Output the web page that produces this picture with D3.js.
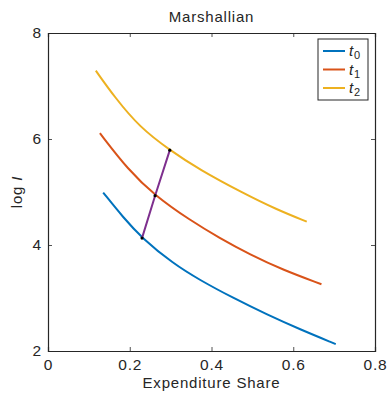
<!DOCTYPE html>
<html>
<head>
<meta charset="utf-8">
<script src="https://cdn.jsdelivr.net/npm/d3@7"></script>
<style>
  body { margin: 0; background: #fff; }
  svg text { font-family: 'Liberation Sans', Arial, sans-serif; fill: #262626; letter-spacing: 0.8px; }
</style>
</head>
<body>
<div id="chart"></div>
<script>
const margin = { top: 33, right: 13, bottom: 42, left: 48 };
const WIDTH = 388 - margin.left - margin.right;
const HEIGHT = 393 - margin.top - margin.bottom;

// data
const seriesNames = ['t0', 't1', 't2'];
const seriesColors = ['#0072BD', '#D95319', '#EDB120'];
const t0Share = [0.135, 0.184, 0.230, 0.306, 0.371, 0.453, 0.535, 0.616, 0.704];
const t0LogI = [4.99, 4.52, 4.13, 3.65, 3.34, 3.00, 2.69, 2.41, 2.13];
const t1Share = [0.127, 0.196, 0.262, 0.347, 0.420, 0.494, 0.575, 0.669];
const t1LogI = [6.11, 5.42, 4.93, 4.47, 4.13, 3.82, 3.53, 3.26];
const t2Share = [0.117, 0.163, 0.2245, 0.298, 0.371, 0.477, 0.559, 0.633];
const t2LogI = [7.29, 6.79, 6.22, 5.79, 5.42, 4.98, 4.67, 4.44];
const pathShare = [0.230, 0.262, 0.298];
const pathLogI = [4.13, 4.93, 5.79];
const xTicks = [0, 0.2, 0.4, 0.6, 0.8];
const yTicks = [2, 4, 6, 8];

const series = [
  { name: seriesNames[0], color: seriesColors[0], pts: t0Share.map((x, i) => [x, t0LogI[i]]) },
  { name: seriesNames[1], color: seriesColors[1], pts: t1Share.map((x, i) => [x, t1LogI[i]]) },
  { name: seriesNames[2], color: seriesColors[2], pts: t2Share.map((x, i) => [x, t2LogI[i]]) }
];
const pathPts = pathShare.map((x, i) => [x, pathLogI[i]]);

const svg = d3
  .select('#chart')
  .append('svg')
  .attr('width', 388)
  .attr('height', 393);

const g = svg.append('g').attr('transform', `translate(${margin.left}, ${margin.top})`);

const xScale = d3.scaleLinear().domain([0, 0.8]).range([0, WIDTH]);
const yScale = d3.scaleLinear().domain([2, 8]).range([HEIGHT, 0]);

// axes (ticks inside like matlab)
const fmt = d => (d === 0 ? '0' : d3.format('.1f')(d));
const xAxis = d3.axisBottom(xScale).tickValues(xTicks).tickSize(-4).tickPadding(8).tickFormat(fmt);
const xAxisTop = d3.axisTop(xScale).tickValues(xTicks).tickSize(-4).tickFormat('');
const yAxis = d3.axisLeft(yScale).tickValues(yTicks).tickSize(-4).tickPadding(6).tickFormat(d3.format('d'));
const yAxisRight = d3.axisRight(yScale).tickValues(yTicks).tickSize(-4).tickFormat('');

const styleAxis = sel => {
  sel.select('.domain').attr('stroke', '#262626').attr('stroke-width', 1.2);
  sel.selectAll('.tick line').attr('stroke', '#262626').attr('stroke-width', 0.8);
  sel.selectAll('.tick text').style('font-size', '15.5px').attr('fill', '#262626');
};

g.append('g').attr('transform', `translate(0,${HEIGHT})`).call(xAxis).call(styleAxis);
g.append('g').call(xAxisTop).call(styleAxis);
g.append('g').call(yAxis).call(styleAxis);
g.append('g').attr('transform', `translate(${WIDTH},0)`).call(yAxisRight).call(styleAxis);

const line = d3
  .line()
  .x(d => xScale(d[0]))
  .y(d => yScale(d[1]))
  .curve(d3.curveBasis);

series.forEach(s => {
  g.append('path')
    .datum(s.pts)
    .attr('fill', 'none')
    .attr('stroke', s.color)
    .attr('stroke-width', 2)
    .attr('d', line);
});

// purple path linking the curves
g.append('path')
  .datum(pathPts)
  .attr('fill', 'none')
  .attr('stroke', '#7E2F8E')
  .attr('stroke-width', 2)
  .attr('d', d3.line().x(d => xScale(d[0])).y(d => yScale(d[1])));

g.selectAll('.dot')
  .data(pathPts)
  .enter()
  .append('circle')
  .attr('class', 'dot')
  .attr('cx', d => xScale(d[0]))
  .attr('cy', d => yScale(d[1]))
  .attr('r', 1.6)
  .attr('fill', '#000');

// title
svg.append('text')
  .attr('x', margin.left + WIDTH / 2)
  .attr('y', 21.5)
  .attr('text-anchor', 'middle')
  .style('font-size', '15px')
  .text('Marshallian');

// x label
svg.append('text')
  .attr('x', margin.left + WIDTH / 2)
  .attr('y', 388)
  .attr('text-anchor', 'middle')
  .style('font-size', '15px')
  .text('Expenditure Share');

// y label
const yl = svg.append('text')
  .attr('transform', `translate(21.5,${margin.top + HEIGHT / 2}) rotate(-90)`)
  .attr('text-anchor', 'middle')
  .style('font-size', '15px');
yl.append('tspan').text('log ');
yl.append('tspan').style('font-style', 'italic').text('I');

// legend
const legend = svg.append('g').attr('transform', 'translate(318,39)');
legend.append('rect')
  .attr('width', 50)
  .attr('height', 61)
  .attr('fill', '#fff')
  .attr('stroke', '#262626')
  .attr('stroke-width', 1);

series.forEach((s, i) => {
  const row = legend.append('g').attr('transform', `translate(0,${12 + i * 18.5})`);
  row.append('line')
    .attr('x1', 5).attr('x2', 27)
    .attr('y1', 0).attr('y2', 0)
    .attr('stroke', s.color)
    .attr('stroke-width', 2);
  const t = row.append('text').attr('x', 31).attr('y', 5).style('font-size', '15px');
  t.append('tspan').style('font-style', 'italic').text(s.name[0]);
  t.append('tspan').attr('dy', 3).style('font-size', '11px').text(s.name.slice(1));
});
</script>
</body>
</html>
